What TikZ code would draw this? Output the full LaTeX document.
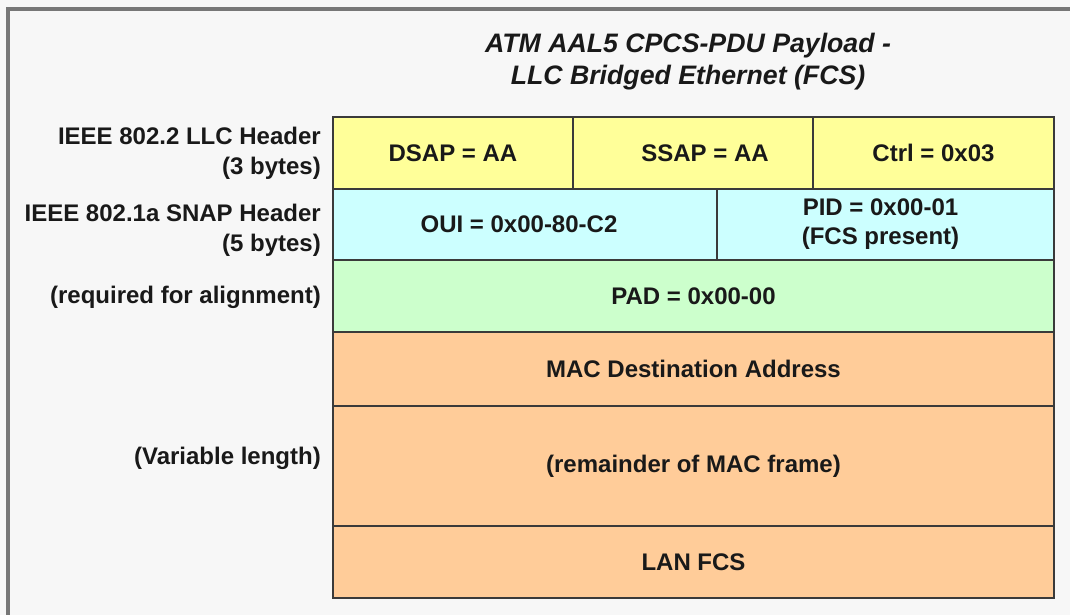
\documentclass[tikz,border=0pt]{standalone}
\usepackage{fontspec}
\setmainfont{Liberation Sans}
\definecolor{bgc}{HTML}{F7F7F7}
\definecolor{framec}{HTML}{777777}
\definecolor{linec}{HTML}{3A3A3A}
\definecolor{yel}{HTML}{FFFF99}
\definecolor{cya}{HTML}{CCFFFF}
\definecolor{grn}{HTML}{CCFFCC}
\definecolor{ora}{HTML}{FFCC99}
\tikzset{
  cell/.style={draw=linec, line width=2pt, rectangle, inner sep=0pt, align=center,
    font=\fontsize{24}{29}\selectfont\bfseries, text=black!90},
  sidelabel/.style={anchor=east, align=right, inner sep=0pt,
    font=\fontsize{24}{30}\selectfont\bfseries, text=black!90},
  titlelabel/.style={align=center, inner sep=0pt,
    font=\fontsize{26.7}{32}\selectfont\bfseries\itshape, text=black!90}
}
\begin{document}
\begin{tikzpicture}[x=1pt,y=-1pt]
\useasboundingbox (0,0) rectangle (1070,615);
\fill[bgc] (0,0) rectangle (1070,615);
\draw[framec, line width=4pt] (8,615) -- (8,9) -- (1070,9);
% title
\node[titlelabel] (title) at (688,62) {ATM AAL5 CPCS-PDU Payload -\\LLC Bridged Ethernet (FCS)};
% row 1
\node[cell, fill=yel, minimum width=240pt, minimum height=72pt] (dsap) at (453,153) {DSAP = AA};
\node[cell, fill=yel, minimum width=240pt, minimum height=72pt] (ssap) at (693,153) {\hspace*{24pt}SSAP = AA};
\node[cell, fill=yel, minimum width=241pt, minimum height=72pt] (ctrl) at (933.5,153) {Ctrl = 0x03};
% row 2
\node[cell, fill=cya, minimum width=384pt, minimum height=71pt] (oui) at (525,224.5) {\hspace*{-12pt}OUI = 0x00-80-C2};
\node[cell, fill=cya, minimum width=337pt, minimum height=71pt] (pid) at (885.5,224.5) {\hspace*{-10pt}PID = 0x00-01\\\hspace*{-10pt}(FCS present)};
% row 3
\node[cell, fill=grn, minimum width=721pt, minimum height=72pt] (pad) at (693.5,296) {PAD = 0x00-00};
% rows 4-6
\node[cell, fill=ora, minimum width=721pt, minimum height=74pt] (mac) at (693.5,369) {MAC Destination Address};
\node[cell, fill=ora, minimum width=721pt, minimum height=120pt] (rem) at (693.5,466) {(remainder of MAC frame)};
\node[cell, fill=ora, minimum width=721pt, minimum height=72pt] (fcs) at (693.5,562) {LAN FCS};
% side labels
\node[sidelabel] (llc) at (321,153) {IEEE 802.2 LLC Header\\(3 bytes)};
\node[sidelabel] (snap) at (321,230) {IEEE 802.1a SNAP Header\\(5 bytes)};
\node[sidelabel] (algn) at (321,297) {(required for alignment)};
\node[sidelabel] (var) at (321,458) {(Variable length)};
\end{tikzpicture}
\end{document}
